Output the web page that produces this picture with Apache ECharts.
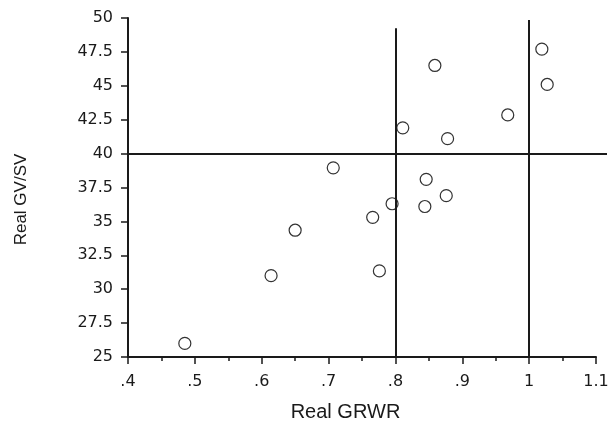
<html>
    <head>
        <meta charset="utf-8">
        <script src="https://cdn.jsdelivr.net/npm/echarts@6/dist/echarts.min.js"></script>
        <style>
            body { margin: 0; background: #fff; }
            #chart { width: 610px; height: 423px; }
        </style>
    </head>
    <body>
        <div id="chart"></div>
        <script>
        // Real GRWR (x) vs Real GV/SV (y)
        var grwr = [0.485, 0.614, 0.650, 0.707, 0.766, 0.776, 0.795, 0.844, 0.876, 0.846, 0.811, 0.878, 0.859, 0.968, 1.019, 1.027];
        var gvsv = [26.0, 31.0, 34.35, 38.95, 35.3, 31.35, 36.3, 36.1, 36.9, 38.1, 41.9, 41.1, 46.5, 42.85, 47.7, 45.1];

        // reference lines
        var hLineY = 40;
        var vLineX = [0.8, 1.0];
        var vLineTop = [49.25, 49.85];

        var points = grwr.map(function (x, i) { return [x, gvsv[i]]; });

        var vLines = vLineX.map(function (x, i) {
            return [{ coord: [x, 25] }, { coord: [x, vLineTop[i]] }];
        });

        var ink = '#1a1a1a';
        var lineStyle = { color: ink, width: 2, type: 'solid' };

        var myChart = echarts.init(document.getElementById('chart'));

        var option = {
            animation: false,
            backgroundColor: '#fff',
            grid: [
                { left: 128, right: 14, top: 18, bottom: 66, outerBoundsMode: 'none' },
                // wider, hidden grid so the 40 line runs past the x axis end
                { left: 128, right: 3, top: 18, bottom: 66, outerBoundsMode: 'none' }
            ],
            xAxis: [{
                type: 'value',
                gridIndex: 0,
                min: 0.4,
                max: 1.1,
                interval: 0.1,
                name: 'Real GRWR',
                nameLocation: 'middle',
                nameGap: 45,
                nameTextStyle: {
                    fontFamily: 'Liberation Sans',
                    fontSize: 20,
                    color: ink,
                    padding: [0, 33, 0, 0]
                },
                axisLine: { lineStyle: { color: ink, width: 2 } },
                axisTick: { length: 7, lineStyle: { color: ink, width: 1.5 } },
                minorTick: { show: true, splitNumber: 2, length: 4, lineStyle: { color: ink, width: 1.5 } },
                splitLine: { show: false },
                axisLabel: {
                    margin: 17,
                    fontFamily: 'DejaVu Sans',
                    fontSize: 16,
                    color: ink,
                    formatter: function (v) {
                        return String(+v.toFixed(2)).replace(/^0\./, '.');
                    }
                }
            }, {
                type: 'value',
                gridIndex: 1,
                min: 0,
                max: 1,
                show: false
            }],
            yAxis: [{
                type: 'value',
                gridIndex: 0,
                min: 25,
                max: 50,
                interval: 2.5,
                name: 'Real GV/SV',
                nameLocation: 'middle',
                nameRotate: 90,
                nameGap: 98,
                nameTextStyle: {
                    fontFamily: 'Liberation Sans',
                    fontSize: 17,
                    color: ink,
                    padding: [0, 24, 0, 0]
                },
                axisLine: { show: true, lineStyle: { color: ink, width: 2 } },
                axisTick: { show: true, length: 7, lineStyle: { color: ink, width: 1.5 } },
                splitLine: { show: false },
                axisLabel: {
                    margin: 15,
                    fontFamily: 'DejaVu Sans',
                    fontSize: 16,
                    color: ink
                }
            }, {
                type: 'value',
                gridIndex: 1,
                min: 25,
                max: 50,
                show: false
            }],
            series: [{
                type: 'scatter',
                xAxisIndex: 0,
                yAxisIndex: 0,
                symbol: 'circle',
                symbolSize: 12,
                itemStyle: { color: '#fff', borderColor: '#333', borderWidth: 1.2, opacity: 1 },
                data: points,
                markLine: {
                    silent: true,
                    symbol: 'none',
                    label: { show: false },
                    lineStyle: lineStyle,
                    data: vLines
                },
                z: 3
            }, {
                type: 'scatter',
                xAxisIndex: 1,
                yAxisIndex: 1,
                data: [],
                markLine: {
                    silent: true,
                    symbol: 'none',
                    label: { show: false },
                    lineStyle: lineStyle,
                    data: [{ yAxis: hLineY }]
                },
                z: 1
            }]
        };

        myChart.setOption(option);
        </script>
    </body>
</html>
